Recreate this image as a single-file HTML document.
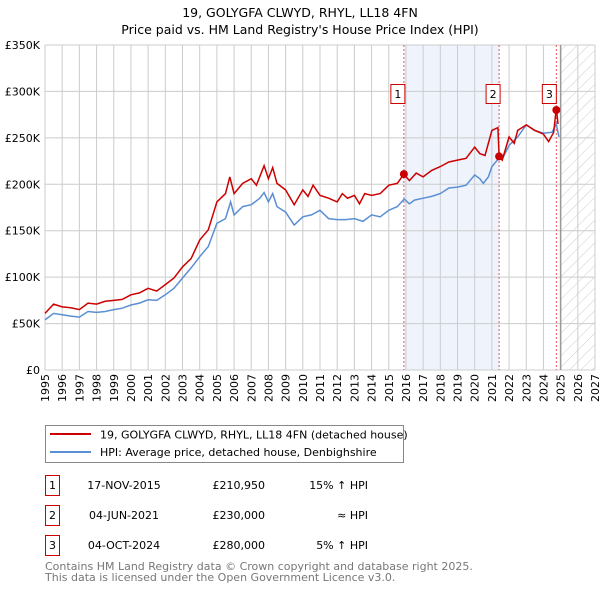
<!DOCTYPE html>
<html><head><meta charset="utf-8"><style>
body{margin:0;background:#fff;}
svg{display:block;font-family:"DejaVu Sans","Liberation Sans",sans-serif;}
</style></head><body>
<svg id="chart" width="600" height="590" viewBox="0 0 600 590">
<defs><pattern id="hatch" width="8" height="8" patternUnits="userSpaceOnUse" patternTransform="rotate(45)"><line x1="0" y1="0" x2="0" y2="8" stroke="#ccc" stroke-width="1"/></pattern></defs>
<text x="300" y="17" text-anchor="middle" font-size="12.5">19, GOLYGFA CLWYD, RHYL, LL18 4FN</text>
<text x="300" y="34" text-anchor="middle" font-size="12.5">Price paid vs. HM Land Registry's House Price Index (HPI)</text>
<g id="plot"></g>
<g>
<rect x="45.5" y="425.5" width="358" height="37" fill="#fff" stroke="#888"/>
<line x1="50" y1="434" x2="91" y2="434" stroke="#cc0000" stroke-width="2"/>
<text x="100" y="438.5" font-size="11">19, GOLYGFA CLWYD, RHYL, LL18 4FN (detached house)</text>
<line x1="50" y1="452" x2="91" y2="452" stroke="#5b8fd4" stroke-width="2"/>
<text x="100" y="456" font-size="11">HPI: Average price, detached house, Denbighshire</text>
</g>
<g font-size="11">
<rect x="45.5" y="475.5" width="14" height="20" fill="#fff" stroke="#cc0000"/><text x="52.5" y="489" text-anchor="middle">1</text>
<text x="124" y="489" text-anchor="middle">17-NOV-2015</text><text x="265" y="489" text-anchor="end">£210,950</text><text x="368" y="489" text-anchor="end">15% ↑ HPI</text>
<rect x="45.5" y="505.5" width="14" height="20" fill="#fff" stroke="#cc0000"/><text x="52.5" y="519" text-anchor="middle">2</text>
<text x="124" y="519" text-anchor="middle">04-JUN-2021</text><text x="265" y="519" text-anchor="end">£230,000</text><text x="368" y="519" text-anchor="end">≈ HPI</text>
<rect x="45.5" y="535.5" width="14" height="20" fill="#fff" stroke="#cc0000"/><text x="52.5" y="549" text-anchor="middle">3</text>
<text x="124" y="549" text-anchor="middle">04-OCT-2024</text><text x="265" y="549" text-anchor="end">£280,000</text><text x="368" y="549" text-anchor="end">5% ↑ HPI</text>
</g>
<text x="45" y="570" font-size="11" fill="#777">Contains HM Land Registry data © Crown copyright and database right 2025.</text>
<text x="45" y="581" font-size="11" fill="#777">This data is licensed under the Open Government Licence v3.0.</text>
</svg>
<script>
const yTicks=[0,50,100,150,200,250,300,350];
const yTickLabels=["£0","£50K","£100K","£150K","£200K","£250K","£300K","£350K"];
const xYears=[1995,1996,1997,1998,1999,2000,2001,2002,2003,2004,2005,2006,2007,2008,2009,2010,2011,2012,2013,2014,2015,2016,2017,2018,2019,2020,2021,2022,2023,2024,2025,2026,2027];
const hpiT=[1995,1995.5,1996,1996.5,1997,1997.5,1998,1998.5,1999,1999.5,2000,2000.5,2001,2001.5,2002,2002.5,2003,2003.5,2004,2004.5,2005,2005.5,2005.8,2006,2006.5,2007,2007.5,2007.75,2008,2008.25,2008.5,2009,2009.5,2010,2010.5,2011,2011.5,2012,2012.5,2013,2013.5,2014,2014.5,2015,2015.5,2015.9,2016.2,2016.5,2017,2017.5,2018,2018.5,2019,2019.5,2020,2020.3,2020.5,2020.8,2021,2021.4,2021.6,2022,2022.5,2023,2023.5,2024,2024.5,2024.75,2024.9];
const hpiV=[54,61,59.5,58,57,63,62,63,65,66.6,70,72,75.6,75,81,88,99,110,122,133,158,163,181,167,176,178,185,191,181,190,176,170,156,165,167,172,163,162,162,163,160,167,165,172,176,184,179,183,185,187,190,196,197,199,210,206,201,208,219,228,227,242,251,264,258,255,256,265,251];
const priceT=[1995,1995.5,1996,1996.5,1997,1997.5,1998,1998.5,1999,1999.5,2000,2000.5,2001,2001.5,2002,2002.5,2003,2003.5,2004,2004.5,2005,2005.5,2005.75,2006,2006.5,2007,2007.3,2007.75,2008,2008.25,2008.5,2009,2009.5,2010,2010.3,2010.6,2011,2011.5,2012,2012.3,2012.6,2013,2013.3,2013.6,2014,2014.5,2015,2015.5,2015.88,2016.2,2016.6,2017,2017.5,2018,2018.5,2019,2019.5,2020,2020.3,2020.6,2021,2021.35,2021.42,2021.6,2022,2022.3,2022.5,2023,2023.5,2024,2024.3,2024.6,2024.75,2024.85];
const priceV=[61,71,68,67,65,72,71,74,75,76,81,83,88,85,92,99,111,120,140,151,181,190,208,190,201,206,199,220,206,218,201,194,178,194,187,199,188,185,181,190,185,188,179,190,188,190,199,201,211,204,212,208,215,219,224,226,228,240,233,231,258,261,231,226,251,244,258,264,258,254,246,256,282,265];
const saleT=[2015.88,2021.42,2024.75];
const saleV=[210.95,230,280];
const saleLabels=["1","2","3"];
const X0=45,X1=595,Y0=370,Y1=45;
const xs=t=>X0+(t-1995)/(2027-1995)*(X1-X0);
const ys=v=>Y0-v/350*(Y0-Y1);
const NS="http://www.w3.org/2000/svg";
const g=document.getElementById('plot');
function mk(tag,attrs,parent){const e=document.createElementNS(NS,tag);for(const k in attrs)e.setAttribute(k,attrs[k]);(parent||g).appendChild(e);return e;}
// shaded band
let band=mk('rect',{x:xs(saleT[0]),y:Y1,width:xs(saleT[1])-xs(saleT[0]),height:Y0-Y1,fill:'#eef3fc'});


let fut=mk('rect',{x:xs(2025),y:Y1,width:X1-xs(2025),height:Y0-Y1,fill:'url(#hatch)'});


xYears.forEach(y=>{let l=mk('line',{x1:xs(y),x2:xs(y),y1:Y1,y2:Y0,stroke:'#ccc'});


let t=mk('text',{x:0,y:0,'font-size':11,transform:`translate(${xs(y)+4},${Y0+4}) rotate(-90)`,'text-anchor':'end'});
t.textContent=y;

});
yTicks.forEach((v,i)=>{let l=mk('line',{x1:X0,x2:X1,y1:ys(v),y2:ys(v),stroke:'#ccc'});


let t=mk('text',{x:40,y:ys(v)+4,'font-size':11,'text-anchor':'end'});
t.textContent=yTickLabels[i];

});
let nl=mk('line',{x1:xs(2025),x2:xs(2025),y1:Y1,y2:Y0,stroke:'#999','stroke-width':1.5});


saleT.forEach(t=>{let l=mk('line',{x1:xs(t),x2:xs(t),y1:Y1,y2:Y0,stroke:'#ee5555','stroke-dasharray':'2,2'});

});
const pts=(T,V)=>T.map((t,i)=>xs(t).toFixed(1)+','+ys(V[i]).toFixed(1)).join(' ');
let hl=mk('polyline',{points:pts(hpiT,hpiV),fill:'none',stroke:'#5b8fd4','stroke-width':1.5});


let pl=mk('polyline',{points:pts(priceT,priceV),fill:'none',stroke:'#cc0000','stroke-width':1.5});


saleT.forEach((t,i)=>{let c=mk('circle',{cx:xs(t),cy:ys(saleV[i]),r:4,fill:'#cc0000'});


let r=mk('rect',{x:xs(t)-19.5+6,y:84.5,width:14,height:19,fill:'#fff',stroke:'#cc0000'});
r.setAttribute('x',xs(t)-7-(i==2?1:0)-6);


let tx=mk('text',{x:xs(t)-6-(i==2?1:0),y:98,'font-size':11,'text-anchor':'middle'});
tx.textContent=saleLabels[i];

});
</script>
</body></html>
